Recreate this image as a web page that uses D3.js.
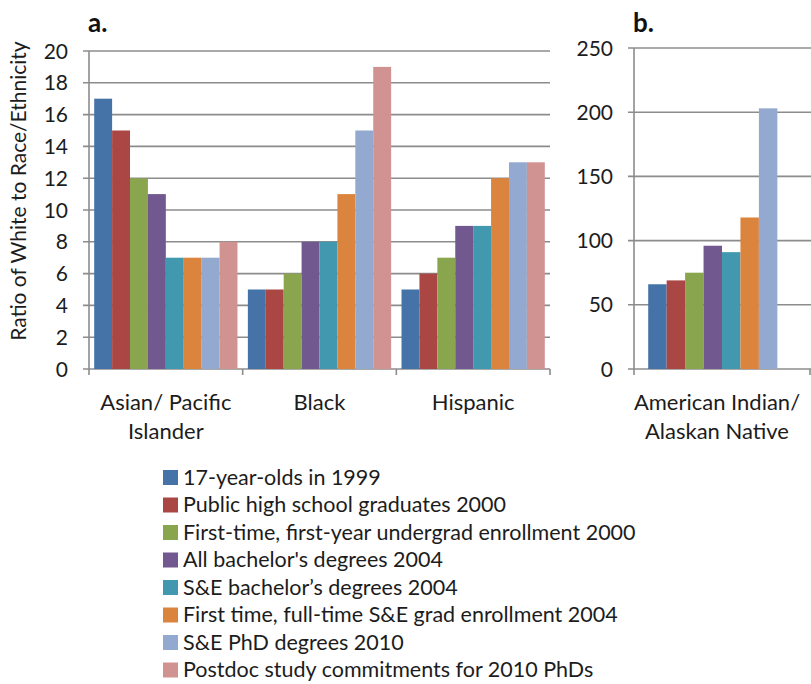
<!DOCTYPE html>
<html>
<head>
<meta charset="utf-8">
<script src="https://cdn.jsdelivr.net/npm/d3@7"></script>
<style>
  body { margin: 0; background: #fff; }
  svg text { font-family: Lato, "Open Sans", sans-serif; fill: #1c1c1c; }
</style>
</head>
<body>
<svg width="811" height="684"></svg>
<script>
// series (one colour each)
const seriesNames = [
  "17-year-olds in 1999",
  "Public high school graduates 2000",
  "First-time, first-year undergrad enrollment 2000",
  "All bachelor's degrees 2004",
  "S&E bachelor\u2019s degrees 2004",
  "First time, full-time S&E grad enrollment 2004",
  "S&E PhD degrees 2010",
  "Postdoc study commitments  for 2010 PhDs"
];
const colors = ["#4572A7", "#AA4643", "#89A54E", "#71588F", "#4198AF", "#DB843D", "#93A9CF", "#D19392"];

// panel a categories and values
const categoriesA = ["Asian/ Pacific Islander", "Black", "Hispanic"];
const labelLinesA = [["Asian/ Pacific", "Islander"], ["Black"], ["Hispanic"]];
const asianPacific = [17, 15, 12, 11, 7, 7, 7, 8];
const black = [5, 5, 6, 8, 8, 11, 15, 19];
const hispanic = [5, 6, 7, 9, 9, 12, 13, 13];
const ticksA = [0, 2, 4, 6, 8, 10, 12, 14, 16, 18, 20];

// panel b
const categoriesB = ["American Indian/ Alaskan Native"];
const labelLinesB = [["American Indian/", "Alaskan Native"]];
const amIndian = [66, 69, 75, 96, 91, 118, 203, null];
const ticksB = [0, 50, 100, 150, 200, 250];

const svg = d3.select("svg");
const gridColor = "#8c8c8c";

function panel(opts) {
  const g = svg.append("g");
  const y = d3.scaleLinear().domain(opts.domain).range([369, opts.top]);
  const x0 = d3.scaleBand().domain(opts.categories).range(opts.xRange);
  const x1 = d3.scaleBand().domain(d3.range(seriesNames.length))
    .range([0, x0.bandwidth()]).paddingOuter(opts.outerPad);

  // gridlines + left ticks
  g.append("g").selectAll("line").data(opts.ticks).join("line")
    .attr("x1", opts.xRange[0] - 6).attr("x2", opts.gridEnd)
    .attr("y1", d => y(d)).attr("y2", d => y(d))
    .attr("stroke", gridColor).attr("stroke-width", 1.6);

  g.append("g").selectAll("text").data(opts.ticks).join("text")
    .attr("x", opts.xRange[0] - 21).attr("y", d => y(d)).attr("dy", "0.36em")
    .attr("text-anchor", "end").style("font-size", "21px")
    .text(d => d);

  // bars
  opts.categories.forEach((c, ci) => {
    g.append("g").selectAll("rect")
      .data(opts.values[ci].map((v, i) => ({ v, i })).filter(d => d.v != null))
      .join("rect")
      .attr("x", d => x0(c) + x1(d.i))
      .attr("width", x1.bandwidth())
      .attr("y", d => y(d.v))
      .attr("height", d => y(0) - y(d.v))
      .attr("fill", d => colors[d.i]);
  });

  // axes lines
  g.append("line").attr("x1", opts.xRange[0]).attr("x2", opts.xRange[0])
    .attr("y1", y(opts.domain[1])).attr("y2", y(0))
    .attr("stroke", gridColor).attr("stroke-width", 1.6);
  const sep = opts.categories.map(c => x0(c)).concat([opts.xRange[1]]);
  g.append("g").selectAll("line").data(sep).join("line")
    .attr("x1", d => d).attr("x2", d => d)
    .attr("y1", y(0)).attr("y2", y(0) + 6)
    .attr("stroke", gridColor).attr("stroke-width", 1.6);

  // category labels
  opts.categories.forEach((c, ci) => {
    const cx = x0(c) + x0.bandwidth() / 2 + (opts.labelShift || 0);
    const t = g.append("text")
      .attr("x", cx).attr("y", 410).attr("text-anchor", "middle")
      .style("font-size", "22px");
    opts.labels[ci].forEach((line, li) => {
      t.append("tspan").attr("x", cx).attr("dy", li === 0 ? 0 : 29).text(line);
    });
  });

  // panel letter
  g.append("text").attr("x", opts.xRange[0] - 1).attr("y", 32)
    .style("font-size", "26px").style("font-weight", "bold").style("fill", "#111")
    .text(opts.letter);
}

panel({
  categories: categoriesA, labels: labelLinesA,
  values: [asianPacific, black, hispanic],
  domain: [0, 20], top: 51, ticks: ticksA,
  xRange: [89, 550], gridEnd: 550, outerPad: 0.29, letter: "a."
});

panel({
  categories: categoriesB, labels: labelLinesB,
  values: [amIndian],
  domain: [0, 250], top: 48, ticks: ticksB,
  xRange: [634, 810], gridEnd: 811, outerPad: 0.77, letter: "b.", labelShift: -5
});

// y-axis title
svg.append("text")
  .attr("transform", "translate(26,191) rotate(-90)")
  .attr("text-anchor", "middle").style("font-size", "21px")
  .text("Ratio of White to Race/Ethnicity");

// legend
const legend = svg.append("g").attr("transform", "translate(163,477)");
const rows = legend.selectAll("g").data(seriesNames).join("g")
  .attr("transform", (d, i) => `translate(0,${i * 27.5})`);
rows.append("rect").attr("x", 0).attr("y", -7).attr("width", 15).attr("height", 15)
  .attr("fill", (d, i) => colors[i]);
rows.append("text").attr("x", 20).attr("dy", "0.36em")
  .style("font-size", "21.5px").text(d => d);
</script>
</body>
</html>
